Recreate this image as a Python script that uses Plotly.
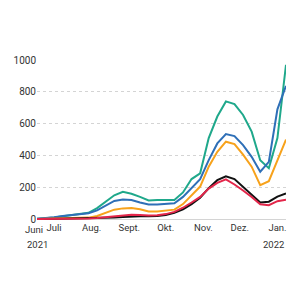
import pandas as pd
import plotly.graph_objects as go

dates = pd.date_range(start="2021-06-17", end="2022-01-08", periods=30)

teal = [3, 5, 10, 18, 25, 30, 40, 70, 110, 150, 172, 160, 140, 118, 120, 118, 120, 168,
        252, 288, 510, 645, 740, 723, 655, 550, 370, 320, 510, 970]
blue = [3, 6, 12, 20, 25, 30, 38, 55, 85, 115, 124, 120, 105, 92, 93, 95, 100, 140,
        195, 252, 371, 476, 535, 522, 465, 392, 298, 360, 690, 837]
orange = [2, 3, 5, 7, 8, 9, 10, 20, 40, 60, 68, 70, 62, 48, 48, 52, 60, 95,
          150, 205, 330, 423, 487, 472, 405, 330, 214, 239, 370, 500]
black = [0, 1, 1, 1, 2, 2, 3, 4, 6, 10, 14, 17, 18, 18, 20, 27, 40, 62,
         95, 135, 195, 245, 270, 252, 205, 157, 105, 110, 142, 162]
red = [1, 1, 2, 2, 3, 4, 5, 8, 12, 18, 24, 28, 26, 23, 25, 32, 46, 72,
       105, 140, 192, 228, 250, 218, 180, 140, 94, 88, 113, 122]

series = [
    ("teal", teal, "#1fa88b"),
    ("blue", blue, "#2e6fb7"),
    ("orange", orange, "#f7a21b"),
    ("black", black, "#111111"),
    ("red", red, "#e3264a"),
]

tick_vals = ["2021-07-01", "2021-08-01", "2021-09-01", "2021-10-01",
             "2021-11-01", "2021-12-01", "2022-01-01"]
tick_text = ["Juli", "Aug.", "Sept.", "Okt.", "Nov.", "Dez.", "Jan."]
first_label = "Juni"
y_ticks = [0, 200, 400, 600, 800, 1000]

fig = go.Figure()
for name, vals, col in series:
    fig.add_trace(go.Scatter(x=dates, y=vals, mode="lines", name=name,
                             line=dict(color=col, width=2), hoverinfo="skip"))

fig.update_layout(
    width=300, height=300,
    margin=dict(l=37, r=14, t=60, b=80),
    paper_bgcolor="white", plot_bgcolor="white",
    showlegend=False,
    font=dict(family="Roboto", size=10, color="#333333"),
    xaxis=dict(range=[dates[0], dates[-1]], tickvals=tick_vals, ticktext=tick_text,
               tickangle=0, automargin=False,
               showgrid=False, zeroline=False, showline=False, ticks="",
               tickfont=dict(size=9.5, color="#333333")),
    yaxis=dict(range=[-5, 1000], tickvals=y_ticks, showgrid=True, automargin=False,
               gridcolor="#d4d4d4", griddash="dot", gridwidth=1,
               zeroline=True, zerolinecolor="#d4d4d4", zerolinewidth=1,
               showline=False, ticks="", tickfont=dict(size=10, color="#333333")),
)

fig.add_annotation(text=first_label, x=0, xref="paper", xanchor="left", xshift=-13,
                   y=0, yref="paper", yanchor="top", yshift=-3, borderpad=0,
                   showarrow=False, font=dict(size=9.5, color="#333333"))
fig.add_annotation(text="2021", x=0, xref="paper", xanchor="left", xshift=-12,
                   y=0, yref="paper", yanchor="top", yshift=-17,
                   showarrow=False, font=dict(size=9.5, color="#333333"))
fig.add_annotation(text="2022", x=1, xref="paper", xanchor="right",
                   y=0, yref="paper", yanchor="top", yshift=-17,
                   showarrow=False, font=dict(size=9.5, color="#333333"))

fig.write_html("out.html")
